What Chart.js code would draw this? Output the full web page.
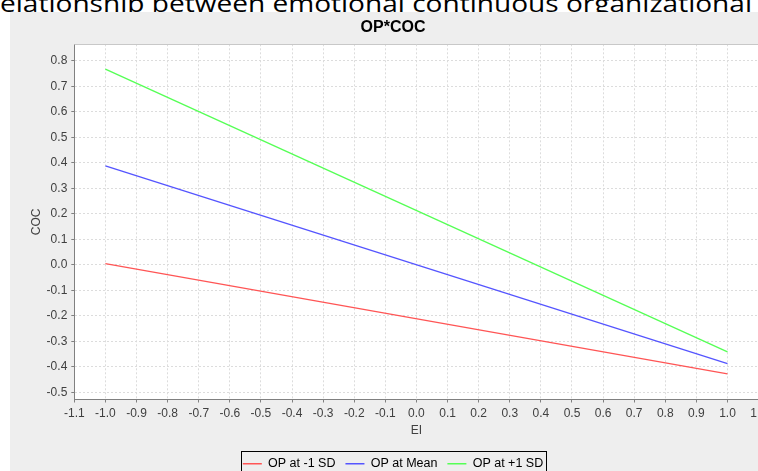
<!DOCTYPE html>
<html><head><meta charset="utf-8">
<script src="https://cdn.jsdelivr.net/npm/chart.js@4"></script>
<style>
html,body{margin:0;padding:0;width:758px;height:471px;overflow:hidden;background:#fff;position:relative;}
#doc{position:absolute;left:0;top:-9px;white-space:nowrap;font-family:'Open Sans';font-size:24px;line-height:24px;color:#000;transform-origin:0 0;z-index:0;}
#panel{position:absolute;left:10px;top:12px;width:766px;height:468px;background:#eeeeee;z-index:1;}
canvas{display:block;}
</style></head><body>
<div id="doc">elationship between emotional continuous organizational</div>
<div id="panel"><canvas id="c" width="766" height="468"></canvas></div>
<script>
// ---- data ----
const xValues = [-1.0, 1.0];
const opMinus1SD = [0.005, -0.428];
const opMean = [0.388, -0.388];
const opPlus1SD = [0.768, -0.342];
const seriesLabels = ['OP at -1 SD', 'OP at Mean', 'OP at +1 SD'];
const xTickValues = [-1.1,-1.0,-0.9,-0.8,-0.7,-0.6,-0.5,-0.4,-0.3,-0.2,-0.1,0.0,0.1,0.2,0.3,0.4,0.5,0.6,0.7,0.8,0.9,1.0,1.1];
const yTickValues = [-0.5,-0.4,-0.3,-0.2,-0.1,0.0,0.1,0.2,0.3,0.4,0.5,0.6,0.7,0.8];
const chartTitle = 'OP*COC';
const xTitle = 'EI';
const yTitle = 'COC';

// fit the document text line width
(function(){
  const d = document.getElementById('doc');
  const w = d.getBoundingClientRect().width;
  d.style.transform = 'scaleX(' + (752 / w) + ')';
})();

const series = [opMinus1SD, opMean, opPlus1SD];
const colors = ['#ff5555', '#5555ff', '#55ff55'];
const FONT = 'Liberation Sans';

const framePlugin = {
  id: 'frame',
  beforeDraw(chart) {
    const a = chart.chartArea, ctx = chart.ctx;
    ctx.save();
    ctx.fillStyle = '#ffffff';
    ctx.fillRect(a.left, a.top, a.right - a.left, a.bottom - a.top);
    ctx.restore();
  },
  beforeDatasetsDraw(chart) {
    const a = chart.chartArea, ctx = chart.ctx;
    ctx.save();
    ctx.strokeStyle = '#c8c8c8';
    ctx.lineWidth = 1;
    ctx.beginPath();
    const y = Math.round(a.top) + 0.5;
    ctx.moveTo(a.left, y); ctx.lineTo(a.right, y);
    ctx.stroke();
    ctx.restore();
  },
  afterDraw(chart) {
    const lg = chart.legend, ctx = chart.ctx;
    if (!lg || !lg.legendHitBoxes) return;
    const hb = lg.legendHitBoxes;
    const l = Math.min(...hb.map(h => h.left));
    const r = Math.max(...hb.map(h => h.left + h.width));
    const t = Math.min(...hb.map(h => h.top));
    ctx.save();
    ctx.strokeStyle = '#000';
    ctx.lineWidth = 1;
    ctx.strokeRect(Math.round(l - 2) + 0.5, Math.round(t - 7) + 0.5, Math.round(r - l + 5), 40);
    ctx.restore();
  }
};

new Chart(document.getElementById('c'), {
  type: 'scatter',
  data: {
    datasets: seriesLabels.map((lab, i) => ({
      label: lab,
      data: xValues.map((x, j) => ({x: x, y: series[i][j]})),
      borderColor: colors[i],
      backgroundColor: colors[i],
      borderWidth: 1.3,
      pointRadius: 0,
      pointHoverRadius: 0,
      pointStyle: 'line',
      showLine: true,
      fill: false
    }))
  },
  options: {
    responsive: false,
    devicePixelRatio: 1,
    animation: false,
    layout: {padding: {left: 17.4, right: 17.4, top: 0, bottom: 0}},
    plugins: {
      tooltip: {enabled: false},
      title: {
        display: true, text: chartTitle, color: '#000',
        font: {family: FONT, size: 16, weight: 'bold'},
        padding: {top: 6, bottom: 7.1}
      },
      legend: {
        position: 'bottom',
        labels: {
          font: {family: FONT, size: 12.5}, color: '#000',
          usePointStyle: true, pointStyleWidth: 19, padding: 10
        }
      }
    },
    scales: {
      x: {
        type: 'linear', min: -1.1, max: 1.1,
        afterBuildTicks: s => { s.ticks = xTickValues.map(v => ({value: v})); },
        afterFit: s => { s.height = 48; },
        ticks: {
          autoSkip: false, maxRotation: 0, padding: 4, color: '#404040',
          font: {family: FONT, size: 12},
          callback: v => Number(v).toFixed(1)
        },
        grid: {color: '#dcdcdc', lineWidth: 1, tickLength: 3, tickColor: '#808080', tickWidth: 1},
        border: {display: true, color: '#808080', width: 1, dash: [2, 2]},
        title: {display: true, text: xTitle, color: '#404040', font: {family: FONT, size: 12}, padding: {top: 0, bottom: 9.8}}
      },
      y: {
        type: 'linear', min: -0.5286, max: 0.8655,
        afterBuildTicks: s => { s.ticks = yTickValues.map(v => ({value: v})); },
        afterFit: s => { s.width = 46.9; },
        ticks: {
          padding: 4, color: '#404040',
          font: {family: FONT, size: 12},
          callback: v => Number(v).toFixed(1)
        },
        grid: {color: '#dcdcdc', lineWidth: 1, tickLength: 3, tickColor: '#808080', tickWidth: 1},
        border: {display: true, color: '#808080', width: 1, dash: [2, 2]},
        title: {display: true, text: yTitle, color: '#404040', font: {family: FONT, size: 12}, padding: {top: 2.4, bottom: 0}}
      }
    }
  },
  plugins: [framePlugin]
});
</script>
</body></html>
